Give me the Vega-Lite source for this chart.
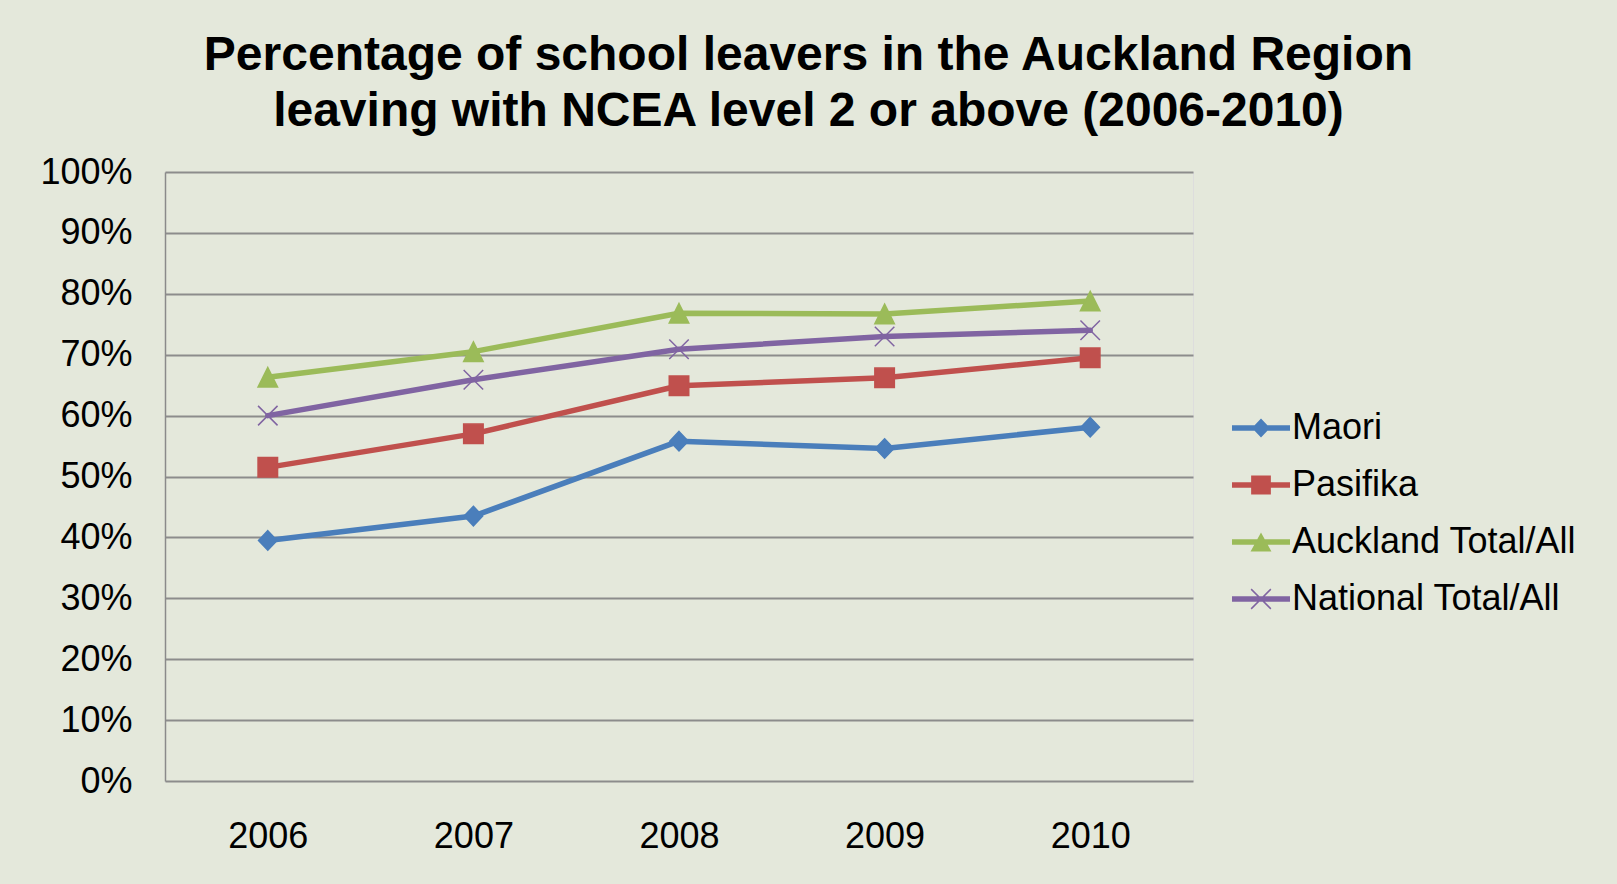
{
  "$schema": "https://vega.github.io/schema/vega-lite/v6.json",
  "autosize": {"type": "none"},
  "padding": {"left": 165, "top": 172, "right": 424, "bottom": 103},
  "width": 1028,
  "height": 609,
  "background": "#E4E8DB",
  "title": {
    "text": ["Percentage of school leavers in the Auckland Region", "leaving with NCEA level 2 or above (2006-2010)"],
    "font": "Liberation Sans",
    "fontSize": 48,
    "fontWeight": "bold",
    "color": "#000000",
    "lineHeight": 56,
    "anchor": "middle",
    "frame": "bounds",
    "offset": 18
  },
  "data": {
    "values": [
      {"year": "2006", "series": "Maori", "value": 0.395},
      {"year": "2007", "series": "Maori", "value": 0.435},
      {"year": "2008", "series": "Maori", "value": 0.558},
      {"year": "2009", "series": "Maori", "value": 0.546},
      {"year": "2010", "series": "Maori", "value": 0.581},
      {"year": "2006", "series": "Pasifika", "value": 0.515},
      {"year": "2007", "series": "Pasifika", "value": 0.570},
      {"year": "2008", "series": "Pasifika", "value": 0.649},
      {"year": "2009", "series": "Pasifika", "value": 0.662},
      {"year": "2010", "series": "Pasifika", "value": 0.695},
      {"year": "2006", "series": "Auckland Total/All", "value": 0.663},
      {"year": "2007", "series": "Auckland Total/All", "value": 0.705},
      {"year": "2008", "series": "Auckland Total/All", "value": 0.768},
      {"year": "2009", "series": "Auckland Total/All", "value": 0.767},
      {"year": "2010", "series": "Auckland Total/All", "value": 0.788},
      {"year": "2006", "series": "National Total/All", "value": 0.600},
      {"year": "2007", "series": "National Total/All", "value": 0.659},
      {"year": "2008", "series": "National Total/All", "value": 0.709},
      {"year": "2009", "series": "National Total/All", "value": 0.730},
      {"year": "2010", "series": "National Total/All", "value": 0.740}
    ]
  },
  "encoding": {
    "x": {
      "field": "year",
      "type": "ordinal",
      "scale": {"type": "point", "padding": 0.5},
      "axis": {
        "title": null,
        "labelAngle": 0,
        "domain": false,
        "ticks": false,
        "grid": false,
        "labelFontSize": 36,
        "labelPadding": 38,
        "labelColor": "#000000",
        "labelFont": "Liberation Sans"
      }
    },
    "y": {
      "field": "value",
      "type": "quantitative",
      "scale": {"domain": [0, 1], "nice": false},
      "axis": {
        "title": null,
        "values": [0, 0.1, 0.2, 0.3, 0.4, 0.5, 0.6, 0.7, 0.8, 0.9, 1],
        "format": ".0%",
        "domain": true,
        "domainColor": "#8A8A8A",
        "domainWidth": 1.5,
        "ticks": false,
        "grid": true,
        "gridColor": "#8C8C8C",
        "gridWidth": 2,
        "gridOpacity": 1,
        "labelFontSize": 36,
        "labelPadding": 33,
        "labelColor": "#000000",
        "labelFont": "Liberation Sans"
      }
    }
  },
  "layer": [
    {
      "mark": {"type": "line", "strokeWidth": 5.5, "strokeCap": "round", "strokeJoin": "round"},
      "encoding": {
        "color": {
          "field": "series",
          "type": "nominal",
          "scale": {
            "domain": ["Maori", "Pasifika", "Auckland Total/All", "National Total/All"],
            "range": ["#4A7EBB", "#C0504D", "#9BBB59", "#8064A2"]
          },
          "legend": {
            "title": null,
            "orient": "none",
            "legendX": 1067,
            "legendY": 227,
            "symbolSize": 3364,
            "rowPadding": 10,
            "labelOffset": 2,
            "labelFontSize": 36,
            "labelFont": "Liberation Sans",
            "labelColor": "#000000",
            "labelLimit": 500,
            "encode": {
              "symbols": {
                "update": {
                  "shape": {"signal": "datum.value === 'Maori' ? 'M-1,-0.095H1V0.095H-1Z M0,-0.33L0.31,0L0,0.33L-0.31,0Z' : datum.value === 'Pasifika' ? 'M-1,-0.095H1V0.095H-1Z M-0.34,-0.33H0.34V0.33H-0.34Z' : datum.value === 'Auckland Total/All' ? 'M-1,-0.095H1V0.095H-1Z M0,-0.33L0.36,0.33H-0.36Z' : 'M-1,-0.095H1V0.095H-1Z M-0.322,-0.358L0.358,0.322L0.322,0.358L-0.358,-0.322Z M-0.358,0.322L0.322,-0.358L0.358,-0.322L-0.322,0.358Z'"},
                  "fill": {"scale": "color", "field": "value"},
                  "stroke": {"value": "transparent"},
                  "strokeWidth": {"value": 0},
                  "size": {"value": 3364},
                  "opacity": {"value": 1}
                }
              }
            }
          }
        }
      }
    },
    {
      "mark": {"type": "point", "size": 380, "strokeWidth": 1.5, "opacity": 1},
      "encoding": {
        "shape": {
          "condition": [
            {"test": "datum.series === 'Maori'", "value": "M0,-1L0.95,0L0,1L-0.95,0Z"},
            {"test": "datum.series === 'Pasifika'", "value": "M-1,-1H1V1H-1Z"},
            {"test": "datum.series === 'Auckland Total/All'", "value": "M0,-1L1,1H-1Z"}
          ],
          "value": "M-1,-1L1,1M-1,1L1,-1"
        },
        "fill": {
          "condition": [
            {"test": "datum.series === 'Maori'", "value": "#4A7EBB"},
            {"test": "datum.series === 'Pasifika'", "value": "#C0504D"},
            {"test": "datum.series === 'Auckland Total/All'", "value": "#9BBB59"}
          ],
          "value": "#8064A2"
        },
        "stroke": {
          "condition": [
            {"test": "datum.series === 'Maori'", "value": "#4A7EBB"},
            {"test": "datum.series === 'Pasifika'", "value": "#C0504D"},
            {"test": "datum.series === 'Auckland Total/All'", "value": "#9BBB59"}
          ],
          "value": "#8064A2"
        }
      }
    }
  ]
}
